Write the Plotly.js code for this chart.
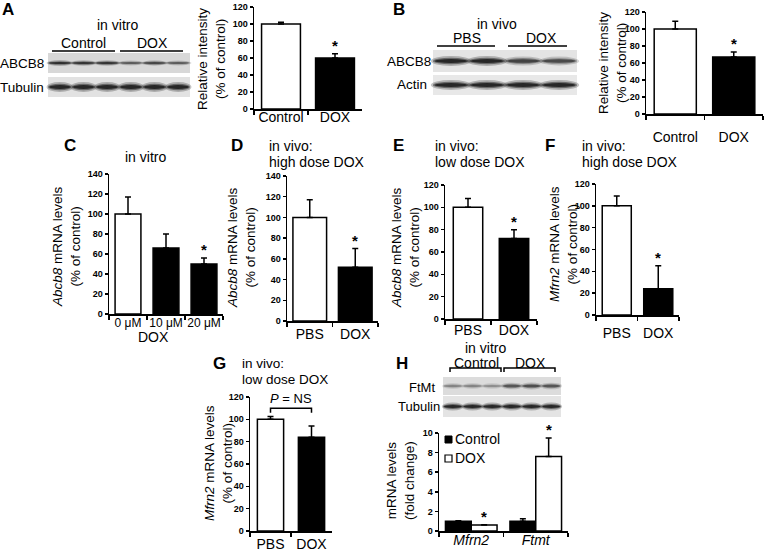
<!DOCTYPE html>
<html><head><meta charset="utf-8">
<script src="https://cdn.plot.ly/plotly-3.0.1.min.js"></script>
<style>html,body{margin:0;padding:0;background:#fff}#chart{width:766px;height:554px}</style>
</head><body><div id="chart"></div>
<script>
// ---------- DATA ----------
const catsA = ['Control', 'DOX'];
const valsA = [100, 60];
const errA = [2, 5];
const catsB = ['Control', 'DOX'];
const valsB = [100, 67];
const errB = [9, 6];
const catsC = ['0 μM', '10 μM', '20 μM'];
const valsC = [100, 66, 50];
const errC = [17, 14, 6];
const catsD = ['PBS', 'DOX'];
const valsD = [100, 52];
const errD = [17, 18];
const catsE = ['PBS', 'DOX'];
const valsE = [100, 72];
const errE = [8, 8];
const catsF = ['PBS', 'DOX'];
const valsF = [100, 24];
const errF = [9, 21];
const catsG = ['PBS', 'DOX'];
const valsG = [100, 84];
const errG = [2.5, 10];
const genesH = ['Mfrn2', 'Ftmt'];
const ctrlH = [1.0, 1.0];
const ctrlErrH = [0.05, 0.25];
const doxH = [0.6, 7.6];
const doxErrH = [0.05, 1.9];
const sigA = [false, true], sigB = [false, true], sigC = [false, false, true];
const sigD = [false, true], sigE = [false, true], sigF = [false, true];
const sigHdox = [true, true];
// western blot band intensities (relative, per lane)
const blotA_ABCB8 = [0.9, 0.85, 0.85, 0.55, 0.7, 0.55];
const blotA_Tub = [1, 1, 1, 1, 1, 1];
const blotB_ABCB8 = [1, 1, 0.75, 0.7];
const blotB_Actin = [1, 1, 1, 1];
const blotH_FtMt = [0.35, 0.35, 0.3, 0.6, 0.65, 0.6];
const blotH_Tub = [1, 1, 1, 1, 1, 1];

// ---------- LAYOUT HELPERS ----------
const W = 766, H = 554;
const FONT = 'Arial, "Liberation Sans", sans-serif';
const px = x => x / W;
const py = y => 1 - y / H;
const layout = {
  width: W, height: H, margin: {l: 0, r: 0, t: 0, b: 0},
  paper_bgcolor: 'white', plot_bgcolor: 'white',
  showlegend: false, barmode: 'overlay',
  font: {family: FONT, color: 'black', size: 14},
  annotations: [], shapes: []
};
const data = [];
const ann = (x, y, text, o) => layout.annotations.push(Object.assign({
  xref: 'paper', yref: 'paper', x: px(x), y: py(y), text: text, showarrow: false,
  xanchor: 'center', yanchor: 'middle', font: {family: FONT, size: 14, color: 'black'}
}, o || {}));

function axes(n, x0, x1, ytop, ybot, range, dtick, ncat, xfs, stand) {
  const sfx = n === 1 ? '' : String(n);
  layout['xaxis' + sfx] = {
    domain: [px(x0), px(x1)], anchor: 'y' + sfx, type: 'category',
    range: [-0.5, ncat - 0.5], showline: true, linecolor: 'black', linewidth: 1.5,
    ticks: 'outside', tickson: 'boundaries', ticklen: 4, tickwidth: 1.5, tickcolor: 'black',
    tickangle: 0, ticklabelstandoff: stand || 0,
    tickfont: {family: FONT, size: xfs || 14, color: 'black'}, showgrid: false, zeroline: false,
    fixedrange: true
  };
  layout['yaxis' + sfx] = {
    domain: [py(ybot), py(ytop)], anchor: 'x' + sfx, range: range, dtick: dtick,
    showline: true, linecolor: 'black', linewidth: 1.5, ticks: 'outside', ticklen: 3,
    tickwidth: 1.5, tickcolor: 'black',
    tickfont: {family: FONT, size: 9, color: 'black', weight: 'bold'},
    showgrid: false, zeroline: false, fixedrange: true
  };
  return sfx;
}
function barPanel(n, cats, vals, errs, colors, sig, box) {
  const s = axes(n, box[0], box[1], box[2], box[3], box[4], box[5], cats.length, box[7], box[8]);
  data.push({
    type: 'bar', x: cats, y: vals, xaxis: 'x' + s, yaxis: 'y' + s, width: box[6] || 0.72,
    marker: {color: colors, line: {color: 'black', width: 1.5}},
    error_y: {type: 'data', array: errs, arrayminus: errs.map(() => 0), symmetric: false,
      color: 'black', thickness: 1.5, width: 3},
    hoverinfo: 'x+y'
  });
  cats.forEach((c, i) => {
    if (sig[i]) layout.annotations.push({
      xref: 'x' + s, yref: 'y' + s, x: c, y: vals[i] + errs[i], text: '<b>*</b>',
      showarrow: false, yanchor: 'bottom', yshift: -2,
      font: {family: FONT, size: 15, color: 'black'}
    });
  });
  return s;
}
function blot(x0, x1, y0, y1, bg, intens, hh) {
  layout.shapes.push({type: 'rect', xref: 'paper', yref: 'paper', x0: px(x0), x1: px(x1),
    y0: py(y1), y1: py(y0), fillcolor: bg, line: {width: 0}, layer: 'below'});
  const n = intens.length, lw = (x1 - x0) / n, cy = (y0 + y1) / 2;
  intens.forEach((a, i) => {
    const cx = x0 + lw * (i + 0.5);
    [[0.56, 1.0, 0.25], [0.5, 0.65, 0.45], [0.45, 0.38, 0.75]].forEach(L => {
      layout.shapes.push({type: 'circle', xref: 'paper', yref: 'paper',
        x0: px(cx - lw * L[0]), x1: px(cx + lw * L[0]),
        y0: py(cy + hh * L[1] * (0.6 + 0.4 * a)), y1: py(cy - hh * L[1] * (0.6 + 0.4 * a)),
        fillcolor: '#111', opacity: Math.min(1, L[2] * a), line: {width: 0}});
    });
  });
}
function hline(x0, x1, y, ticks) {
  const path = ticks
    ? `M${px(x0)},${py(y + 4)} L${px(x0)},${py(y)} L${px(x1)},${py(y)} L${px(x1)},${py(y + 4)}`
    : `M${px(x0)},${py(y)} L${px(x1)},${py(y)}`;
  layout.shapes.push({type: 'path', xref: 'paper', yref: 'paper', path: path,
    line: {color: 'black', width: 1.5}});
}
const WB = ['white', 'black'];
const letter = (x, y, t) => ann(x, y, '<b>' + t + '</b>', {font: {family: FONT, size: 17, color: 'black'}});
const ytitle = (x, y, t) => ann(x, y, t, {textangle: -90, font: {family: FONT, size: 13.5, color: 'black'}});
const F13 = {family: FONT, size: 13.5, color: 'black'};

// ---------- PANEL A ----------
letter(8, 9, 'A');
barPanel(1, catsA, valsA, errA, WB, sigA, [254, 362, 7, 109, [0, 120], 20, 0.72, 14, -5]);
ytitle(212, 59, 'Relative intensity<br>(% of control)');
ann(117, 25, 'in vitro');
ann(83, 43, 'Control'); ann(152, 43, 'DOX');
hline(52, 115, 51); hline(120, 183, 51);
blot(48, 190, 53, 73, '#d8d8d8', blotA_ABCB8, 3);
blot(48, 190, 77, 97, '#e2e2e2', blotA_Tub, 5);
ann(46, 63, 'ABCB8', {xanchor: 'right', font: F13});
ann(46, 87, 'Tubulin', {xanchor: 'right', font: F13});

// ---------- PANEL B ----------
letter(399, 9, 'B');
barPanel(2, catsB, valsB, errB, WB, sigB, [646, 763, 12, 114, [0, 120], 20, 0.72, 14, 10]);
ytitle(612, 63, 'Relative intensity<br>(% of control)');
ann(497, 24, 'in vivo');
ann(467, 38, 'PBS'); ann(541, 38, 'DOX');
hline(437, 495, 46); hline(508, 567, 46);
blot(433, 577, 50, 72, '#e4e4e4', blotB_ABCB8, 5);
blot(433, 577, 75, 95, '#e8e8e8', blotB_Actin, 5);
ann(433, 61, 'ABCB8', {xanchor: 'right', font: F13});
ann(429, 85, 'Actin', {xanchor: 'right', font: F13});

// ---------- PANEL C ----------
letter(70, 146, 'C');
ann(145, 157, 'in vitro');
barPanel(3, catsC, valsC, errC, ['white', 'black', 'black'], sigC, [109, 223, 174, 314, [0, 140], 20, 0.68, 12, -3]);
ytitle(66, 247, '<i>Abcb8</i> mRNA levels<br>(% of control)');
ann(153, 337, 'DOX');

// ---------- PANEL D ----------
letter(237, 146, 'D');
ann(267, 146, 'in vivo:', {xanchor: 'left'});
ann(267, 162, 'high dose DOX', {xanchor: 'left'});
barPanel(4, catsD, valsD, errD, WB, sigD, [287, 378, 176, 321, [0, 140], 20, 0.74]);
ytitle(242, 248, '<i>Abcb8</i> mRNA levels<br>(% of control)');

// ---------- PANEL E ----------
letter(398, 146, 'E');
ann(433, 146, 'in vivo:', {xanchor: 'left'});
ann(433, 162, 'low dose DOX', {xanchor: 'left'});
barPanel(5, catsE, valsE, errE, WB, sigE, [445, 537, 185, 319, [0, 120], 20, 0.64, 14, -2]);
ytitle(406, 248, '<i>Abcb8</i> mRNA levels<br>(% of control)');

// ---------- PANEL F ----------
letter(550, 146, 'F');
ann(580, 146, 'in vivo:', {xanchor: 'left'});
ann(580, 162, 'high dose DOX', {xanchor: 'left'});
barPanel(6, catsF, valsF, errF, WB, sigF, [596, 679, 184, 315, [0, 120], 20, 0.7, 14, 5]);
ytitle(563, 244, '<i>Mfrn2</i> mRNA levels<br>(% of control)');

// ---------- PANEL G ----------
letter(219, 363, 'G');
ann(240, 363, 'in vivo:', {xanchor: 'left', font: F13});
ann(240, 379, 'low dose DOX', {xanchor: 'left', font: F13});
const sG = barPanel(7, catsG, valsG, errG, WB, [false, false], [250, 332, 397, 531, [0, 120], 20, 0.64]);
ytitle(218, 463, '<i>Mfrn2</i> mRNA levels<br>(% of control)');
layout.shapes.push({type: 'path', xref: 'x' + sG, yref: 'y' + sG,
  path: 'M0,106 L0,110 L1,110 L1,106', line: {color: 'black', width: 1.5}});
layout.annotations.push({xref: 'x' + sG, yref: 'y' + sG, x: 0.5, y: 110, text: '<i>P</i> = NS',
  showarrow: false, yanchor: 'bottom', font: {family: FONT, size: 13, color: 'black'}});

// ---------- PANEL H ----------
letter(402, 363, 'H');
ann(485, 348, 'in vitro');
ann(477, 363, 'Control'); ann(530, 363, 'DOX');
hline(450, 501, 368, true); hline(504, 555, 368, true);
blot(443, 561, 377, 395, '#dcdcdc', blotH_FtMt, 4);
blot(443, 561, 396, 417, '#e4e4e4', blotH_Tub, 4);
ann(437, 387, 'FtMt', {xanchor: 'right', font: {family: FONT, size: 13, color: 'black'}});
ann(442, 406, 'Tubulin', {xanchor: 'right', font: {family: FONT, size: 13, color: 'black'}});
const sH = axes(8, 439, 568, 433, 531, [0, 10], 2, 2, 14, -4);
layout['xaxis' + sH].tickvals = genesH;
layout['xaxis' + sH].ticktext = genesH.map(g => '<i>' + g + '</i>');
data.push({type: 'bar', name: 'Control', x: genesH, y: ctrlH, xaxis: 'x' + sH, yaxis: 'y' + sH,
  width: 0.4, offset: -0.4, marker: {color: 'black', line: {color: 'black', width: 1.5}},
  error_y: {type: 'data', array: ctrlErrH, arrayminus: ctrlErrH.map(() => 0), symmetric: false,
    color: 'black', thickness: 1.5, width: 3}});
data.push({type: 'bar', name: 'DOX', x: genesH, y: doxH, xaxis: 'x' + sH, yaxis: 'y' + sH,
  width: 0.4, offset: 0, marker: {color: 'white', line: {color: 'black', width: 1.5}},
  error_y: {type: 'data', array: doxErrH, arrayminus: doxErrH.map(() => 0), symmetric: false,
    color: 'black', thickness: 1.5, width: 3}});
genesH.forEach((g, i) => {
  if (sigHdox[i]) layout.annotations.push({xref: 'x' + sH, yref: 'y' + sH, x: i + 0.2,
    y: doxH[i] + doxErrH[i], text: '<b>*</b>', showarrow: false, yanchor: 'bottom', yshift: -2,
    font: {family: FONT, size: 15, color: 'black'}});
});
ytitle(400, 481, 'mRNA levels<br>(fold change)');
// legend keys
layout.shapes.push({type: 'rect', xref: 'paper', yref: 'paper', x0: px(445), x1: px(452),
  y0: py(443), y1: py(436), fillcolor: 'black', line: {color: 'black', width: 1}});
layout.shapes.push({type: 'rect', xref: 'paper', yref: 'paper', x0: px(445), x1: px(452),
  y0: py(462), y1: py(455), fillcolor: 'white', line: {color: 'black', width: 1.2}});
ann(453, 439, 'Control', {xanchor: 'left'});
ann(453, 458, 'DOX', {xanchor: 'left'});

Plotly.newPlot('chart', data, layout, {staticPlot: true, displayModeBar: false});
</script></body></html>
